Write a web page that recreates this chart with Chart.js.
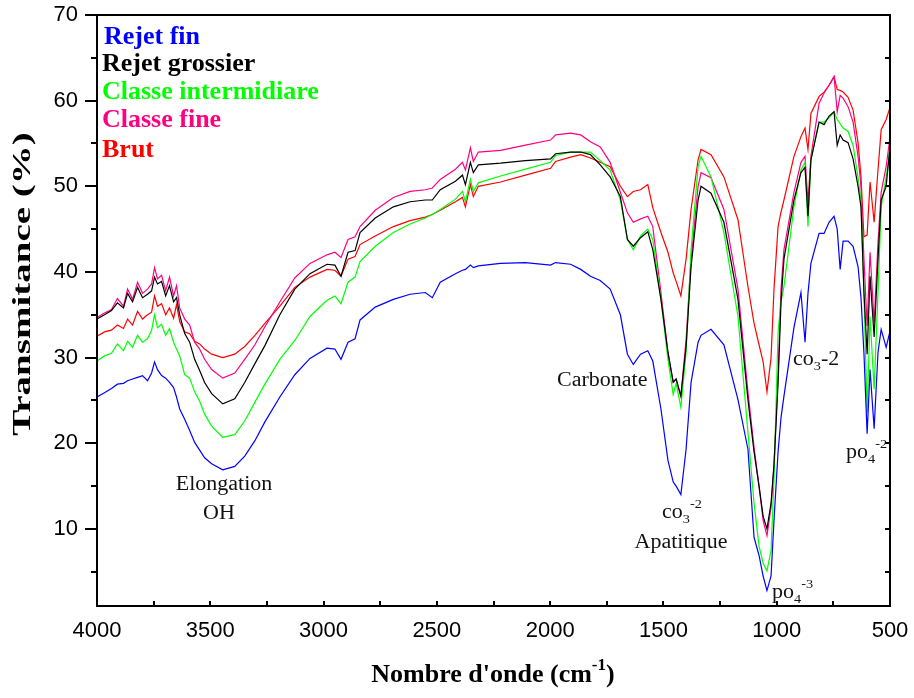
<!DOCTYPE html>
<html>
<head>
<meta charset="utf-8">
<script src="https://cdn.jsdelivr.net/npm/chart.js@4.4.1/dist/chart.umd.min.js"></script>
<style>
  html, body { margin: 0; padding: 0; background: #fff; }
  #ftir { display: block; }
</style>
</head>
<body>
<canvas id="ftir" width="914" height="698" style="width:914px;height:698px"></canvas>
<script>
// wavenumbers (cm-1)
var wavenumbers = [4000,3967,3936,3910,3883,3865,3843,3821,3799,3777,
  3759,3746,3733,3715,3697,3680,3662,3649,3635,3613,
  3591,3569,3547,3525,3494,3445,3392,3348,3303,3259,
  3193,3127,3060,2985,2950,2923,2892,2861,2839,2772,
  2692,2618,2551,2520,2485,2418,2387,2374,2352,2339,
  2317,2219,2109,1998,1976,1910,1865,1822,1779,1735,
  1690,1659,1633,1601,1569,1547,1511,1480,1457,1444,
  1423,1400,1378,1347,1334,1290,1233,1171,1127,1100,
  1078,1060,1043,1025,1012,994,981,968,924,893,
  875,862,849,813,791,769,747,733,720,707,
  685,663,641,628,615,601,588,570,553,539,
  517,500];

var rejetFin = [25.4,25.9,26.4,26.9,27.0,27.3,27.5,27.7,27.9,27.3,
  28.2,29.5,28.6,27.9,27.6,27.1,26.5,25.4,24.0,22.8,
  21.5,20.1,19.2,18.3,17.6,16.9,17.3,18.5,20.3,22.5,
  25.4,28.0,29.9,31.1,31.0,29.8,31.8,32.2,34.4,35.9,
  36.8,37.4,37.6,37.0,38.8,39.8,40.2,40.3,40.8,40.5,
  40.7,41.0,41.1,40.8,41.1,40.9,40.3,39.5,39.0,38.0,
  35.0,30.4,29.2,30.4,30.8,29.6,24.0,18.0,15.5,15.0,
  14.0,19.3,27.1,31.8,32.6,33.3,31.5,25.1,19.3,9.0,
  6.9,4.5,2.8,4.5,11.0,19.0,23.0,25.5,33.5,37.6,
  31.8,37.5,41.0,44.5,44.5,45.8,46.5,45.0,40.3,43.6,
  43.6,43.0,40.6,37.0,30.5,21.1,28.6,21.7,30.6,33.3,
  31.2,33.1];

var rejetGrossier = [34.5,35.0,35.5,36.4,35.8,37.5,36.5,38.2,37.0,37.4,
  37.8,39.4,38.6,38.9,37.2,38.4,36.5,37.0,35.0,32.8,
  31.8,29.8,28.5,27.1,25.8,24.6,25.2,27.1,29.3,31.4,
  35.0,38.0,39.8,40.9,40.8,39.5,42.3,42.5,44.6,46.3,
  47.6,48.2,48.4,48.4,49.6,50.6,51.3,50.2,52.8,51.6,
  52.5,52.7,53.0,53.2,53.8,54.0,54.0,53.7,52.5,51.1,
  48.8,43.8,43.0,44.0,44.7,42.6,36.8,30.6,27.1,27.5,
  25.5,31.3,40.6,48.4,50.0,49.2,45.8,36.8,25.1,19.0,
  15.0,11.5,10.0,13.0,17.5,27.0,36.5,41.5,48.4,51.6,
  52.2,46.5,53.1,57.5,57.2,58.2,58.7,54.8,56.0,55.4,
  55.1,53.2,50.0,47.6,37.6,30.4,39.5,32.4,41.5,48.4,
  50.0,54.6];

var classeIntermidiare = [29.6,30.2,30.5,31.6,30.8,31.9,31.2,32.6,31.8,32.2,
  33.2,35.0,33.5,33.9,32.6,33.4,31.8,31.0,30.2,28.0,
  27.6,26.0,24.9,23.4,22.0,20.7,21.0,22.6,24.8,26.9,
  29.8,32.0,34.8,36.7,37.2,36.3,38.8,39.4,41.2,43.0,
  44.6,45.6,46.3,46.7,47.3,48.5,49.4,48.2,50.8,49.4,
  50.4,51.2,52.0,52.8,53.6,54.0,54.0,54.0,53.0,51.9,
  48.4,43.8,42.6,44.2,45.0,43.8,36.8,29.8,25.7,27.0,
  24.2,30.6,42.6,52.3,53.5,51.1,44.6,34.8,21.3,13.0,
  8.0,6.0,5.1,7.5,15.8,33.0,36.5,38.3,47.6,51.9,
  52.8,45.3,53.1,57.5,57.5,58.0,58.7,57.8,57.3,56.8,
  56.4,54.8,51.0,48.4,37.6,23.6,34.8,26.3,37.6,47.6,
  51.1,54.3];

var classeFine = [34.7,35.2,35.6,36.9,36.0,38.0,36.8,38.8,37.5,38.0,
  38.6,40.5,39.2,39.6,37.8,39.4,37.2,38.4,35.8,34.5,
  33.8,31.8,31.0,29.8,28.6,27.6,28.2,29.8,31.5,33.6,
  36.5,39.3,41.0,42.0,42.3,41.7,43.8,44.1,45.3,47.2,
  48.7,49.4,49.6,49.8,50.8,52.0,52.8,51.9,54.5,52.9,
  54.0,54.2,54.8,55.4,56.0,56.2,56.0,55.2,54.6,52.8,
  49.3,46.9,45.8,46.2,46.5,45.3,37.6,30.6,27.2,27.5,
  25.5,32.1,41.5,50.0,51.6,51.0,47.3,38.0,26.0,19.5,
  15.0,11.0,9.2,12.5,17.5,28.0,38.0,42.6,49.3,52.8,
  53.5,48.1,53.5,59.7,60.9,61.8,62.8,58.7,60.6,60.3,
  59.3,57.5,53.5,50.0,41.5,33.7,42.3,34.1,43.4,49.3,
  52.3,55.7];

var brut = [32.5,33.0,33.2,33.8,33.4,34.5,33.8,35.4,34.5,35.0,
  35.3,37.2,36.0,36.3,35.0,35.8,34.6,36.2,34.2,33.0,
  32.8,31.9,31.6,31.0,30.4,30.0,30.4,31.3,32.6,34.0,
  36.0,38.2,39.4,40.3,40.2,39.5,41.5,41.8,43.2,44.2,
  45.3,46.0,46.4,46.7,47.2,48.2,48.7,47.6,50.2,48.8,
  50.0,50.5,51.3,52.1,52.9,53.4,53.7,53.3,52.8,52.3,
  50.0,48.8,49.4,49.6,50.2,47.5,44.6,42.3,39.9,38.9,
  37.2,41.5,47.3,53.1,54.3,53.7,51.1,46.1,38.3,34.0,
  31.5,29.5,26.0,30.0,38.0,45.3,47.0,48.4,53.5,55.8,
  56.8,54.3,58.5,60.5,61.0,61.8,62.8,61.3,61.2,61.0,
  60.4,58.9,55.1,51.1,44.1,44.3,50.5,45.8,51.9,56.6,
  57.8,59.2];

var seriesNames = ["Rejet fin", "Rejet grossier", "Classe intermidiare", "Classe fine", "Brut"];
var seriesColors = ["#0000ff", "#000000", "#00ff00", "#ff0080", "#ff0000"];
var seriesValues = [rejetFin, rejetGrossier, classeIntermidiare, classeFine, brut];

var xTicks = [4000, 3500, 3000, 2500, 2000, 1500, 1000, 500];
var yTicks = [10, 20, 30, 40, 50, 60, 70];

var SERIF = '"Liberation Serif", "Times New Roman", serif';

function toPoints(values) {
    return wavenumbers.map(function (w, i) { return { x: w, y: values[i] }; });
}

// text with sub/superscripts, left aligned at baseline y
function richText(ctx, x, y, parts, size, stretch) {
    ctx.save();
    ctx.translate(x, y);
    ctx.scale(stretch || 1, 1);
    ctx.textAlign = "left";
    ctx.textBaseline = "alphabetic";
    var cx = 0;
    parts.forEach(function (p) {
        var small = p[1] !== "n";
        ctx.font = (small ? Math.round(size * 0.65) : size) + "px " + SERIF;
        var dy = p[1] === "sub" ? 5 : (p[1] === "sup" ? -10 : 0);
        ctx.fillText(p[0], cx, dy);
        cx += ctx.measureText(p[0]).width;
    });
    ctx.restore();
}

function centerText(ctx, text, x, y, font, stretch) {
    ctx.save();
    ctx.translate(x, y);
    ctx.scale(stretch || 1, 1);
    ctx.font = font;
    ctx.textAlign = "center";
    ctx.textBaseline = "alphabetic";
    ctx.fillText(text, 0, 0);
    ctx.restore();
}

var decorations = {
    id: "decorations",
    afterDraw: function (chart) {
        var ctx = chart.ctx;
        var a = chart.chartArea;
        var xs = chart.scales.x, ys = chart.scales.y;
        ctx.save();
        ctx.strokeStyle = "#000";
        ctx.fillStyle = "#000";

        // frame
        ctx.lineWidth = 2;
        ctx.strokeRect(a.left, a.top, a.right - a.left, a.bottom - a.top);

        // y ticks: left outward, right inward
        for (var v = 5; v <= 70; v += 5) {
            var py = Math.round(ys.getPixelForValue(v));
            var major = v % 10 === 0;
            ctx.beginPath();
            ctx.moveTo(a.left - (major ? 12 : 6), py);
            ctx.lineTo(a.left, py);
            ctx.moveTo(a.right, py);
            ctx.lineTo(a.right - 5, py);
            ctx.stroke();
        }
        // x ticks: inward on the bottom edge
        for (var w = 3750; w > 500; w -= 250) {
            var px = Math.round(xs.getPixelForValue(w));
            ctx.beginPath();
            ctx.moveTo(px, a.bottom);
            ctx.lineTo(px, a.bottom - 5);
            ctx.stroke();
        }

        // legend as coloured text
        var legendY = [44, 71, 99, 127, 157];
        ctx.font = "bold 26px " + SERIF;
        ctx.textAlign = "left";
        ctx.textBaseline = "alphabetic";
        seriesNames.forEach(function (n, i) {
            ctx.fillStyle = seriesColors[i];
            ctx.fillText(n, i === 0 ? 104 : 102, legendY[i]);
        });

        // band annotations
        ctx.fillStyle = "#111";
        var f20 = "20px " + SERIF;
        centerText(ctx, "Elongation", 224, 490, f20, 1.1);
        centerText(ctx, "OH", 219, 519, f20, 1.1);
        richText(ctx, 557, 386, [["Carbonate", "n"]], 20, 1.1);
        richText(ctx, 662, 518, [["co", "n"], ["3", "sub"], ["-2", "sup"]], 20, 1.1);
        centerText(ctx, "Apatitique", 681, 548, f20, 1.1);
        richText(ctx, 772, 598, [["po", "n"], ["4", "sub"], ["-3", "sup"]], 20, 1.1);
        richText(ctx, 793, 365, [["co", "n"], ["3", "sub"], ["-2", "n"]], 20, 1.1);
        richText(ctx, 846, 458, [["po", "n"], ["4", "sub"], ["-2", "sup"]], 20, 1.1);

        // axis titles
        ctx.fillStyle = "#000";
        ctx.save();
        ctx.translate(30, 284);
        ctx.rotate(-Math.PI / 2);
        ctx.scale(1.5, 1);
        ctx.font = "bold 26px " + SERIF;
        ctx.textAlign = "center";
        ctx.fillText("Transmitance (%)", 0, 0);
        ctx.restore();

        ctx.font = "bold 26px " + SERIF;
        var t1 = "Nombre d'onde (cm", sup = "-1", t2 = ")";
        var w1 = ctx.measureText(t1).width;
        ctx.font = "bold 17px " + SERIF;
        var ws = ctx.measureText(sup).width;
        ctx.font = "bold 26px " + SERIF;
        var w2 = ctx.measureText(t2).width;
        var x0 = 493 - (w1 + ws + w2) / 2;
        ctx.textAlign = "left";
        ctx.fillText(t1, x0, 682);
        ctx.font = "bold 17px " + SERIF;
        ctx.fillText(sup, x0 + w1, 670);
        ctx.font = "bold 26px " + SERIF;
        ctx.fillText(t2, x0 + w1 + ws, 682);
        ctx.restore();
    }
};

var config = {
    type: "line",
    data: {
        datasets: seriesNames.map(function (n, i) {
            return {
                label: n,
                data: toPoints(seriesValues[i]),
                borderColor: seriesColors[i],
                backgroundColor: seriesColors[i],
                borderWidth: 1.2,
                pointRadius: 0,
                tension: 0,
                fill: false
            };
        })
    },
    options: {
        responsive: false,
        animation: false,
        layout: { padding: { top: 15, right: 24, left: 0, bottom: 0 } },
        plugins: { legend: { display: false }, tooltip: { enabled: false } },
        scales: {
            x: {
                type: "linear",
                reverse: true,
                min: 500,
                max: 4000,
                afterBuildTicks: function (s) { s.ticks = xTicks.map(function (v) { return { value: v }; }); },
                afterFit: function (s) { s.height = 92; s.paddingLeft = 0; s.paddingRight = 0; },
                grid: { display: false, drawTicks: false, tickLength: 0 },
                border: { display: false },
                ticks: {
                    color: "#000",
                    padding: 12,
                    maxRotation: 0,
                    callback: function (v) { return String(v); },
                    font: { family: '"Liberation Sans", Arial, sans-serif', size: 22 }
                }
            },
            y: {
                type: "linear",
                min: 1,
                max: 70,
                afterBuildTicks: function (s) { s.ticks = yTicks.map(function (v) { return { value: v }; }); },
                afterFit: function (s) { s.width = 97; s.paddingTop = 0; s.paddingBottom = 0; },
                grid: { display: false, drawTicks: false, tickLength: 0 },
                border: { display: false },
                ticks: {
                    color: "#000",
                    padding: 19,
                    callback: function (v) { return String(v); },
                    font: { family: '"Liberation Sans", Arial, sans-serif', size: 22 }
                }
            }
        }
    },
    plugins: [decorations]
};

var ftirChart = new Chart(document.getElementById("ftir"), config);
</script>
</body>
</html>
